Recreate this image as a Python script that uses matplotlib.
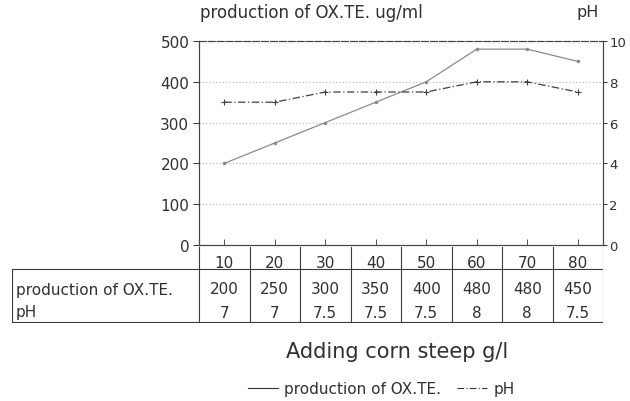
import matplotlib
matplotlib.use("Agg")
import matplotlib.pyplot as plt
from matplotlib.lines import Line2D

plt.rcParams["font.family"] = ["DejaVu Sans"]

# data
corn_steep = [10, 20, 30, 40, 50, 60, 70, 80]
production = [200, 250, 300, 350, 400, 480, 480, 450]
ph = [7, 7, 7.5, 7.5, 7.5, 8, 8, 7.5]

TXT = "#303030"
W, H = 630, 402

fig = plt.figure(figsize=(6.3, 4.02), dpi=100)

# main plot area in pixels
px_l, px_r, px_t, px_b = 199, 603, 42, 246
ax = fig.add_axes([px_l / W, 1 - px_b / H, (px_r - px_l) / W, (px_b - px_t) / H])
xs = list(range(1, len(corn_steep) + 1))
ax.set_xlim(0.5, len(xs) + 0.5)
ax.set_ylim(0, 500)

ax.plot(xs, production, color="#8a8a8a", lw=0.9, marker=".", ms=3, zorder=3)

ax2 = ax.twinx()
ax2.set_ylim(0, 10)
ax2.plot(xs, ph, color="#404040", lw=0.9, ls=(0, (6, 2, 1, 2)), marker="+", ms=4, mew=0.8, zorder=3)

ax.set_yticks([0, 100, 200, 300, 400, 500])
ax2.set_yticks([0, 2, 4, 6, 8, 10])
ax.tick_params(axis="y", labelsize=11, colors=TXT, length=4, width=0.7, pad=3)
ax2.tick_params(axis="y", labelsize=9.5, colors=TXT, length=3, width=0.7, pad=1.5)
ax.set_xticks(xs)
ax.tick_params(axis="x", direction="in", length=4, width=0.7, colors="#555555", labelbottom=False)
ax2.tick_params(axis="x", length=0)

for y in [100, 200, 300, 400]:
    ax.axhline(y, color="#b5b5b5", lw=0.8, ls=(0, (1, 2)), zorder=1)

for a in (ax, ax2):
    a.spines["top"].set_linestyle((0, (6, 2)))
    for s in a.spines.values():
        s.set_color("#444444")
        s.set_linewidth(0.8)

fig.text(200 / W, 1 - 13 / H, "production of OX.TE. ug/ml", fontsize=12, color=TXT, va="center", ha="left")
fig.text(588 / W, 1 - 13 / H, "pH", fontsize=11.5, color=TXT, va="center", ha="center")

# table below the plot, x shares the column scale of the main axes
unit = (px_r - px_l) / len(xs)
tl = 12
tab_t, tab_mid, tab_b = 246, 270, 323
tx = fig.add_axes([tl / W, 1 - (tab_b + 1) / H, (px_r - tl) / W, (tab_b + 1 - tab_t) / H])
x0 = 0.5 - (px_l - tl) / unit
tx.set_xlim(x0, len(xs) + 0.5)
tx.set_ylim(tab_b + 1, tab_t)
tx.axis("off")

lc = "#3a3a3a"
tx.plot([x0, len(xs) + 0.5], [tab_mid, tab_mid], color=lc, lw=0.8)
tx.plot([x0, len(xs) + 0.5], [tab_b, tab_b], color=lc, lw=0.8)
tx.plot([x0, x0], [tab_mid, tab_b], color=lc, lw=0.8)
for i in range(len(xs) + 1):
    tx.plot([0.5 + i, 0.5 + i], [tab_t + 2, tab_b], color=lc, lw=0.8)

for x, c, p, h in zip(xs, corn_steep, production, ph):
    tx.text(x, 263, str(c), ha="center", va="center", fontsize=11, color=TXT)
    tx.text(x, 290, str(p), ha="center", va="center", fontsize=11, color=TXT)
    tx.text(x, 313, f"{h:g}", ha="center", va="center", fontsize=11, color=TXT)
tx.text(x0 + 0.08, 290, "production of OX.TE.", ha="left", va="center", fontsize=11, color=TXT)
tx.text(x0 + 0.08, 313, "pH", ha="left", va="center", fontsize=11, color=TXT)

fig.text(397 / W, 1 - 352 / H, "Adding corn steep g/l", fontsize=15, color=TXT, ha="center", va="center")

handles = [
    Line2D([], [], color="#333333", lw=0.8),
    Line2D([], [], color="#333333", lw=0.8, ls=(0, (6, 2, 1, 2))),
]
fig.legend(handles, ["production of OX.TE.", "pH"], loc="center", bbox_to_anchor=(381 / W, 1 - 390 / H),
           ncol=2, frameon=False, fontsize=11, handlelength=2.0, handletextpad=0.4, columnspacing=1.0,
           labelcolor=TXT, borderpad=0)

fig.savefig("out.png", dpi=100)
